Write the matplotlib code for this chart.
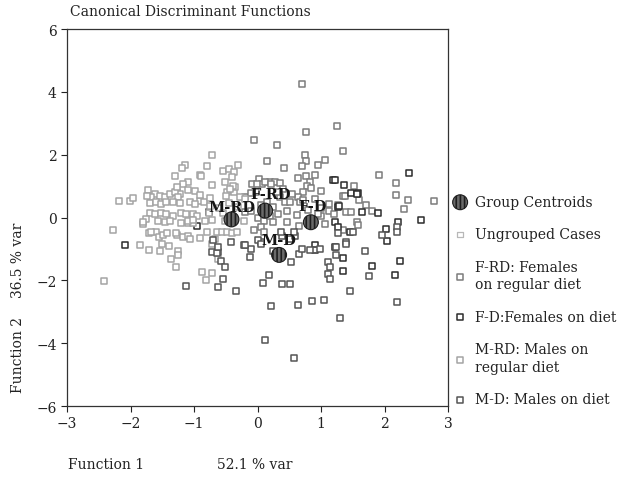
import numpy as np
import matplotlib
matplotlib.use("Agg")
import matplotlib.pyplot as plt

plt.rcParams['font.family'] = ['DejaVu Serif']
plt.rcParams['font.size'] = 10
plt.rcParams['hatch.linewidth'] = 1.2

# group cases (function 1, function 2)
frd = [(0.70, 4.25), (0.77, 2.73), (1.25, 2.91), (1.34, 2.12), (-0.05, 2.48), (0.30, 2.30),
       (0.15, 1.80), (0.41, 1.59), (0.74, 1.99), (0.76, 1.81), (0.70, 1.65), (0.96, 1.67),
       (1.06, 1.84), (1.92, 1.36), (2.18, 1.10), (2.18, 0.72), (2.37, 0.57), (2.78, 0.53),
       (2.31, 0.27), (1.52, 1.01), (1.34, 0.67), (1.37, 0.67), (1.60, 0.57), (1.71, 0.41),
       (1.80, 0.22), (1.40, 0.19), (1.56, -0.13), (1.59, -0.24), (1.34, -0.40), (1.07, -0.21),
       (1.00, 0.30), (1.00, 0.05), (0.66, -0.26), (0.62, 0.09), (0.46, -0.13), (0.33, 0.11),
       (0.64, 1.25), (0.76, 1.31), (0.90, 1.35), (0.83, 1.12), (0.78, 1.01), (-0.09, 1.07),
       (0.03, 1.23), (0.07, 1.07), (0.20, 1.12), (0.28, 1.12), (0.35, 1.10), (0.40, 0.91),
       (0.72, 0.80), (0.85, 0.95), (1.00, 0.85), (0.35, 0.64), (0.43, 0.48), (0.51, 0.48),
       (0.46, 0.22), (0.64, 0.64), (0.67, 0.48), (0.71, 0.56), (1.12, 0.43), (1.27, 0.40),
       (1.13, 0.20), (1.20, 0.10), (-0.20, 0.17), (-0.10, 0.22), (-0.20, 0.65), (-0.10, 0.78),
       (-0.03, 0.80), (-0.01, 1.07), (0.12, 1.12), (0.22, 1.07), (0.05, 0.40), (0.15, 0.50),
       (0.25, 0.35), (0.00, 0.00), (0.10, -0.10), (0.20, 0.05), (0.25, -0.15), (0.05, -0.30),
       (0.10, -0.45), (-0.05, -0.40), (1.48, 0.17), (0.90, 0.60), (0.80, 0.25), (0.95, 0.10),
       (0.55, 0.75), (0.30, 0.80)]

fd = [(2.39, 1.42), (1.36, 1.04), (1.58, 0.78), (1.47, 0.77), (1.19, 1.18), (1.22, 1.18),
      (1.64, 0.19), (1.90, 0.14), (1.27, 0.33), (2.58, -0.08), (1.22, -0.13), (1.26, -0.29),
      (1.46, -0.45), (2.04, -0.75), (2.02, -0.35), (2.22, -0.13), (1.34, -1.29), (1.34, -1.69),
      (1.81, -1.55), (2.24, -1.38), (2.16, -1.82), (0.91, -0.88), (0.91, -1.02), (1.22, -0.95),
      (-2.09, -0.88), (-0.77, 0.17), (1.29, 0.36), (-0.95, -0.26), (1.57, 0.75)]

mrd = [(-2.41, -2.03), (-2.28, -0.40), (-2.18, 0.53), (-2.01, 0.53), (-1.96, 0.62),
       (-1.85, -0.88), (-1.71, -1.02), (-1.80, -0.22), (-1.71, -0.49), (-1.60, -0.45),
       (-1.55, -0.62), (-1.49, -0.55), (-1.51, -0.84), (-1.40, -0.90), (-1.54, -1.06),
       (-1.26, -1.06), (-1.25, -1.19), (-1.37, -1.32), (-1.28, -1.59), (-1.27, -0.56),
       (-1.18, -0.62), (-1.10, -0.60), (-1.06, -0.68), (-0.90, -0.66), (-0.80, -0.47),
       (-1.20, -0.17), (-1.10, -0.18), (-1.02, -0.16), (-0.88, -1.75), (-0.81, -1.99),
       (-0.71, -1.77), (-0.72, -0.84), (-0.67, -0.68), (-0.62, -1.32),
       (-0.72, 1.99), (-0.80, 1.63), (-1.14, 1.68), (-1.19, 1.58), (-1.30, 1.33), (-0.91, 1.35),
       (-0.89, 1.31), (-1.10, 1.14), (-1.17, 1.07), (-1.09, 0.89), (-0.98, 0.83), (-0.72, 1.04),
       (-1.72, 0.89), (-1.61, 0.75), (-1.27, 0.82), (-1.22, 0.75), (-0.90, 0.53), (-0.85, 0.48),
       (-0.75, 0.61), (-0.75, 0.38), (-1.67, 0.64), (-1.74, 0.69), (-1.54, 0.69), (-1.46, 0.64),
       (-1.38, 0.75), (-1.30, 0.80), (-1.25, 0.64), (-1.27, 0.96), (-0.90, 0.72),
       (-1.69, 0.45), (-1.60, 0.50), (-1.52, 0.44), (-1.44, 0.48), (-1.33, 0.50), (-1.22, 0.47),
       (-1.07, 0.50), (-0.99, 0.42), (-1.70, 0.15), (-1.62, 0.10), (-1.52, 0.15), (-1.44, 0.12),
       (-1.33, 0.05), (-1.20, 0.15), (-1.12, 0.10), (-1.02, 0.12), (-0.96, 0.05),
       (-1.75, -0.05), (-1.57, -0.12), (-1.46, -0.15), (-1.38, -0.10), (-1.10, -0.12),
       (-1.02, -0.08), (-0.82, -0.12), (-0.71, -0.08), (-1.80, -0.15), (-1.68, -0.45),
       (-1.42, -0.50), (-1.29, -0.50), (-0.77, 0.14), (-0.64, -0.45), (-0.56, -0.47),
       (-0.48, -0.45), (-0.40, -0.50), (-0.32, -0.45), (-0.51, -0.10), (-0.43, -0.13),
       (-0.35, -0.08), (-0.22, -0.10), (-0.54, 1.49), (-0.45, 1.54), (-0.37, 1.44),
       (-0.31, 1.67), (-0.40, 1.28), (-0.48, 0.80), (-0.37, 0.80), (-0.35, 0.96), (-0.51, 1.12),
       (-0.38, 1.01), (-0.28, 0.64), (-0.20, 0.59), (-0.44, 0.90), (-0.50, 0.70), (-0.60, 0.30),
       (-0.55, 0.15), (-0.30, 0.35), (-0.45, 0.45)]

md = [(-0.72, -1.11), (-0.62, -1.11), (-0.70, -0.72), (0.08, -2.09), (0.39, -2.13), (0.51, -2.13),
      (-0.11, -1.00), (0.06, -0.79), (-1.13, -2.17), (-0.55, -1.95), (0.66, -1.15), (0.63, -2.79),
      (0.86, -2.66), (0.53, -1.41), (0.70, -1.00), (0.83, -1.02), (0.99, -1.00), (1.11, -1.43),
      (1.14, -1.59), (1.11, -1.80), (1.14, -1.96), (0.18, -1.82), (-0.34, -2.33), (0.25, -1.06),
      (0.33, -1.11), (-0.12, -1.27), (-0.22, -0.88), (-0.41, -0.79), (1.04, -2.61), (1.30, -3.19),
      (1.46, -2.34), (0.21, -2.83), (0.11, -3.90), (0.57, -4.46), (1.69, -1.06), (1.75, -1.85),
      (2.20, -2.70), (-0.57, -1.38), (-0.51, -1.56), (-0.64, -1.14), (-0.62, -0.93), (-0.62, -2.21),
      (0.38, -0.58), (0.51, -0.68), (0.59, -0.58), (0.37, -0.47), (0.57, -0.45), (1.39, -0.79),
      (1.39, -0.84), (1.27, -0.50), (1.51, -0.47), (1.96, -0.56), (2.20, -0.31), (2.20, -0.47),
      (-0.19, -0.88), (0.00, -0.70), (0.05, -0.85), (1.24, -1.20), (1.23, -0.93)]

centroid_names = ['F-RD', 'F-D', 'M-RD', 'M-D']
centroid_x = [0.12, 0.84, -0.41, 0.34]
centroid_y = [0.22, -0.15, -0.06, -1.19]
label_offsets = [(4, 12), (1, 12), (0, 9), (0, 11)]

groups = [
    ('F-RD: Females\non regular diet', frd, '#7c7c7c'),
    ('F-D:Females on diet', fd, '#2c2c2c'),
    ('M-RD: Males on\nregular diet', mrd, '#a4a4a4'),
    ('M-D: Males on diet', md, '#555555'),
]

fig = plt.figure(figsize=(6.39, 4.81), dpi=100)
ax = fig.add_axes([0.1049, 0.1538, 0.5962, 0.7838])

handles = []
cent = ax.scatter(centroid_x, centroid_y, s=115, marker='o', facecolor='#6a6a6a',
                  edgecolor='#1e1e1e', hatch='||||', linewidths=0.8, zorder=4,
                  label='Group Centroids')
ung = ax.scatter([], [], s=16, marker='s', facecolors='none', edgecolors='#b8b8b8',
                 linewidths=0.9, label='Ungrouped Cases')
handles += [cent, ung]
for name, pts, col in groups:
    arr = np.array(pts)
    h = ax.scatter(arr[:, 0], arr[:, 1], s=22, marker='s', facecolors='white',
                   edgecolors=col, linewidths=1.1, label=name, zorder=2)
    handles.append(h)

for nm, cx, cy, off in zip(centroid_names, centroid_x, centroid_y, label_offsets):
    ax.annotate(nm, (cx, cy), xytext=off, textcoords='offset points', ha='center',
                va='center', fontsize=10.5, fontweight='bold', color='#151515', zorder=5)

ax.set_xlim(-3, 3)
ax.set_ylim(-6, 6)
ax.set_xticks(range(-3, 4))
ax.set_yticks(range(-6, 7, 2))
ax.tick_params(direction='out', length=4, width=0.8, colors='#222222', labelsize=10)
for sp in ax.spines.values():
    sp.set_color('#333333')
    sp.set_linewidth(0.9)

leg = ax.legend(handles=handles, loc='upper left', bbox_to_anchor=(1.01, 0.56),
                frameon=False, fontsize=10, labelspacing=1.32, handletextpad=0.5,
                handlelength=1.2, borderaxespad=0, borderpad=0, scatterpoints=1)
for t in leg.get_texts():
    t.set_linespacing(1.35)
    t.set_color('#222222')

fig.text(0.110, 0.975, 'Canonical Discriminant Functions', fontsize=10, va='center',
         color='#222222')
fig.text(0.106, 0.034, 'Function 1', fontsize=10, va='center', color='#222222')
fig.text(0.340, 0.034, '52.1 % var', fontsize=10, va='center', color='#222222')
fig.text(0.028, 0.262, 'Function 2', fontsize=10, rotation=90, ha='center', va='center',
         color='#222222')
fig.text(0.028, 0.459, '36.5 % var', fontsize=10, rotation=90, ha='center', va='center',
         color='#222222')

fig.savefig('out.png', dpi=100)
